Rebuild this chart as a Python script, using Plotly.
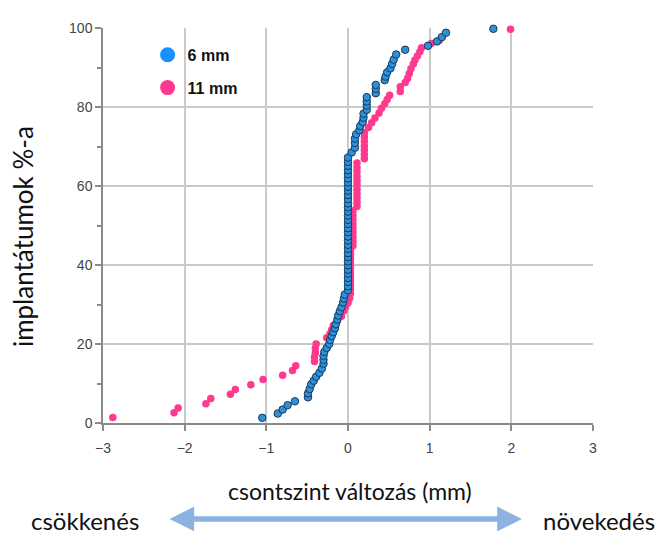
import plotly.graph_objects as go

# 6 mm implants: bone level change (mm) vs cumulative % of implants
mm6_x = [-1.05, -0.86, -0.80, -0.74, -0.65, -0.49, -0.49, -0.47, -0.45, -0.42,
         -0.39, -0.35, -0.32, -0.30, -0.30, -0.30, -0.29, -0.26, -0.23, -0.22,
         -0.20, -0.18, -0.16, -0.15, -0.13, -0.12, -0.10, -0.08, -0.06, -0.05,
         -0.04,
         0.0, 0.0, 0.0, 0.0, 0.0, 0.0, 0.0, 0.0, 0.0, 0.0,
         0.0, 0.0, 0.0, 0.0, 0.0, 0.0, 0.0, 0.0, 0.0, 0.0,
         0.0, 0.0, 0.0, 0.0, 0.0, 0.0, 0.0, 0.0, 0.0, 0.0,
         0.0, 0.0, 0.0,
         0.045, 0.085, 0.085, 0.085, 0.10, 0.14, 0.15, 0.18, 0.19, 0.19,
         0.23, 0.23, 0.23, 0.23, 0.34, 0.34, 0.34, 0.45, 0.46, 0.48,
         0.52, 0.54, 0.56, 0.59, 0.70, 0.98, 1.09, 1.15, 1.20, 1.78]
mm6_y = [1.3, 2.4, 3.4, 4.5, 5.5, 6.5, 7.5, 8.6, 9.8, 10.7,
         11.7, 12.7, 13.8, 15.0, 16.0, 17.0, 18.0, 19.0, 20.0, 21.0,
         22.0, 23.0, 24.0, 25.0, 26.2, 27.2, 28.3, 29.3, 30.5, 31.5,
         32.5,
         33.6, 34.6, 35.7, 36.7, 37.8, 38.8, 39.9, 40.9, 42.0, 43.0,
         44.1, 45.1, 46.2, 47.2, 48.3, 49.3, 50.4, 51.4, 52.5, 53.5,
         54.6, 55.6, 56.7, 57.7, 58.8, 59.8, 60.9, 61.9, 63.0, 64.0,
         65.1, 66.1, 67.2,
         68.5, 69.7, 70.9, 72.0, 73.1, 74.1, 75.2, 76.2, 77.3, 78.3,
         79.3, 80.4, 81.4, 82.5, 83.5, 84.6, 85.6, 86.8, 87.7, 88.8,
         89.8, 90.9, 92.0, 93.3, 94.5, 95.5, 96.6, 97.7, 98.8, 99.8]

# 11 mm implants
mm11_x = [-2.88, -2.13, -2.08, -1.74, -1.68, -1.44, -1.38, -1.19, -1.04, -0.80,
          -0.68, -0.64, -0.41, -0.41, -0.40, -0.40, -0.39, -0.26, -0.22, -0.20,
          -0.18, -0.13, -0.08, -0.05, -0.03, 0.00, 0.02,
          0.03, 0.03, 0.03, 0.03, 0.03, 0.03, 0.03, 0.03, 0.03, 0.03, 0.03,
          0.06, 0.06, 0.06, 0.06, 0.06, 0.06, 0.06, 0.06, 0.06,
          0.11, 0.11, 0.11, 0.11, 0.11, 0.11, 0.11, 0.11, 0.11, 0.11, 0.11,
          0.20, 0.20, 0.20, 0.20, 0.20, 0.20, 0.20,
          0.25, 0.29, 0.33, 0.38, 0.41, 0.45, 0.48, 0.51, 0.64, 0.64,
          0.70, 0.73, 0.75, 0.77, 0.80, 0.82, 0.85, 0.88, 0.90, 1.02,
          1.12, 1.99]
mm11_y = [1.4, 2.6, 3.8, 4.9, 6.2, 7.3, 8.5, 9.7, 11.0, 12.1,
          13.3, 14.5, 15.6, 16.7, 17.8, 18.9, 20.0, 21.6, 22.6, 23.6,
          24.7, 25.8, 27.0, 28.4, 29.4, 30.4, 31.6,
          32.8, 33.9, 35.0, 36.1, 37.2, 38.3, 39.4, 40.5, 41.6, 42.7, 43.8,
          44.9, 46.0, 47.1, 48.2, 49.3, 50.4, 51.5, 52.6, 53.7,
          54.8, 55.9, 57.0, 58.1, 59.2, 60.3, 61.4, 62.5, 63.6, 64.7, 65.8,
          66.9, 68.0, 69.1, 70.2, 71.3, 72.4, 73.5,
          74.8, 76.0, 77.2, 78.5, 79.7, 80.8, 81.9, 83.0, 83.9, 85.1,
          86.2, 87.3, 88.5, 89.7, 90.9, 91.9, 92.9, 94.0, 95.0, 96.1,
          96.9, 99.7]

x_ticks = [-3, -2, -1, 0, 1, 2, 3]
y_ticks = [0, 20, 40, 60, 80, 100]
series_names = ["6 mm", "11 mm"]

BLUE = "#2f8fd8"
BLUE_EDGE = "#173a5c"
PINK = "#ff3a8e"
LEG_BLUE = "#1a8fff"

fig = go.Figure()

fig.add_trace(go.Scatter(x=mm11_x, y=mm11_y, mode="markers", showlegend=False,
                         marker=dict(size=7.5, color=PINK, line=dict(width=0)),
                         cliponaxis=False))
fig.add_trace(go.Scatter(x=mm6_x, y=mm6_y, mode="markers", showlegend=False,
                         marker=dict(size=7.5, color=BLUE,
                                     line=dict(width=1, color=BLUE_EDGE)),
                         cliponaxis=False))

# legend entries
fig.add_trace(go.Scatter(x=[None], y=[None], mode="markers", name=series_names[0],
                         legendgroup="a",
                         marker=dict(size=15, color=LEG_BLUE)))
fig.add_trace(go.Scatter(x=[None], y=[None], mode="markers", name=series_names[1],
                         legendgroup="b",
                         marker=dict(size=15, color=PINK)))

FAM = "Lato, Noto Sans, sans-serif"
xtitle_font = dict(family=FAM, size=23, color="#111")
ytitle_font = dict(family=FAM, size=26, color="#111")
side_font = dict(family=FAM, size=24, color="#111")

# page body has an 8px margin; figure is sized so the plot lands where the reference has it
fig.update_layout(
    width=661, height=528,
    margin=dict(l=95, r=76, t=12, b=113),
    paper_bgcolor="white", plot_bgcolor="white",
    font=dict(family="Liberation Sans, Arial, sans-serif", size=13, color="#444"),
    legend=dict(x=0.091, y=0.975, xanchor="left", yanchor="top",
                bgcolor="rgba(0,0,0,0)", tracegroupgap=9,
                traceorder="grouped",
                font=dict(family="Liberation Sans, Arial, sans-serif", size=16,
                          color="#111", weight="bold")),
    xaxis=dict(range=[-3, 3], tickvals=x_ticks, showgrid=True, gridcolor="#c9c9c9",
               gridwidth=1.5, zeroline=False, showline=True, linecolor="#8a8a8a",
               linewidth=1.5, ticks="outside", ticklen=6, tickcolor="#8a8a8a",
               tickwidth=1.5, ticklabelstandoff=5,
               tickfont=dict(size=14, color="#444")),
    yaxis=dict(range=[0, 100], tickvals=y_ticks, showgrid=True, gridcolor="#c9c9c9",
               gridwidth=1.5, zeroline=False, showline=True, linecolor="#8a8a8a",
               linewidth=1.5, ticks="outside", ticklen=6, tickcolor="#8a8a8a",
               tickwidth=1.5, tickfont=dict(size=14, color="#444"),
               minor=dict(dtick=10, ticks="outside", ticklen=4, tickcolor="#8a8a8a",
                          showgrid=False)),
)

annotations = [
    dict(text="csontszint változás (mm)", xref="paper", yref="paper",
         x=0.504, y=-0.171, xanchor="center", yanchor="middle",
         showarrow=False, font=xtitle_font),
    dict(text="implantátumok %-a", xref="paper", yref="paper",
         x=-0.163, y=0.471, xanchor="center", yanchor="middle", textangle=-90,
         showarrow=False, font=ytitle_font),
    dict(text="csökkenés", xref="paper", yref="paper",
         x=-0.037, y=-0.2457, xanchor="center", yanchor="middle",
         showarrow=False, font=side_font),
    dict(text="növekedés", xref="paper", yref="paper",
         x=1.012, y=-0.2457, xanchor="center", yanchor="middle",
         showarrow=False, font=side_font),
    dict(text="", xref="paper", yref="paper", x=0.855, y=-0.243,
         axref="pixel", ayref="pixel", ax=-354, ay=0,
         showarrow=True, arrowside="end+start", arrowhead=2, arrowsize=0.9,
         arrowwidth=5.5, arrowcolor="#8cb2e0", standoff=0, startstandoff=0),
]
fig.update_layout(annotations=annotations)

fig.write_html("out.html")
